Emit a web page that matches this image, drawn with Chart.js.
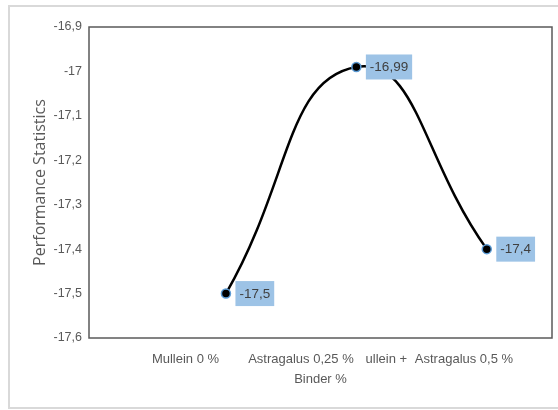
<!DOCTYPE html>
<html>
<head>
<meta charset="utf-8">
<script src="https://cdn.jsdelivr.net/npm/chart.js@4"></script>
<style>
  html, body { margin: 0; padding: 0; background: #fff; }
  #wrap { width: 558px; height: 410px; }
</style>
</head>
<body>
<div id="wrap"><canvas id="c" width="558" height="410"></canvas></div>
<script>
// Series: performance statistic per binder mix
const xPositions = [1, 2, 3];
const scores = [-17.5, -16.99, -17.4];

// Category captions along the x axis and where they sit on the scale
const xTickLabels = ['Mullein 0 %', 'Astragalus 0,25 %', 'ullein +', 'Astragalus 0,5 %'];
const xTickValues = [0.69, 1.575, 2.23, 2.825];

// Value axis range
const yMin = -17.6;
const yMax = -16.9;
const yStep = 0.1;

const xTitle = 'Binder %';
const yTitle = 'Performance Statistics';

const grey = '#595959';
const sans = "'Liberation Sans', Arial, sans-serif";

const commaNum = v => String(Number(v.toFixed(2))).replace('.', ',');

// Light frame round the whole chart and dark box round the plot area
const framePlugin = {
  id: 'frames',
  beforeDraw(chart) {
    const ctx = chart.ctx;
    ctx.save();
    ctx.strokeStyle = '#d9d9d9';
    ctx.lineWidth = 2;
    ctx.strokeRect(9, 6, 620, 402);
    ctx.restore();
  },
  afterDraw(chart) {
    const {ctx, chartArea: a} = chart;
    ctx.save();
    ctx.strokeStyle = '#5a5a5a';
    ctx.lineWidth = 1.5;
    ctx.strokeRect(a.left, a.top, a.right - a.left, a.bottom - a.top);
    ctx.restore();
  }
};

// Value boxes to the right of each point
const valueLabelPlugin = {
  id: 'valueLabels',
  afterDatasetsDraw(chart) {
    const ctx = chart.ctx;
    const meta = chart.getDatasetMeta(0);
    ctx.save();
    ctx.font = '13.5px ' + sans;
    ctx.textBaseline = 'middle';
    meta.data.forEach((pt, i) => {
      const txt = commaNum(scores[i]);
      const w = ctx.measureText(txt).width + 8;
      const h = 25;
      const bx = pt.x + 9.5;
      const by = pt.y - h / 2;
      ctx.fillStyle = '#9dc3e6';
      ctx.fillRect(bx, by, w, h);
      ctx.fillStyle = '#404040';
      ctx.fillText(txt, bx + 4, pt.y + 0.5);
    });
    ctx.restore();
  }
};

new Chart(document.getElementById('c'), {
  type: 'line',
  data: {
    datasets: [{
      data: xPositions.map((x, i) => ({x, y: scores[i]})),
      borderColor: '#000',
      borderWidth: 2.5,
      tension: 0.5,
      pointRadius: 4.5,
      pointBackgroundColor: '#000',
      pointBorderColor: '#5b9bd5',
      pointBorderWidth: 1.5,
      fill: false
    }]
  },
  options: {
    responsive: false,
    animation: false,
    events: [],
    layout: { padding: { left: 9, top: 27, right: 5, bottom: 0 } },
    plugins: { legend: { display: false }, tooltip: { enabled: false } },
    scales: {
      x: {
        type: 'linear',
        min: -0.05,
        max: 3.5,
        afterBuildTicks(scale) {
          scale.ticks = xTickValues.map(v => ({ value: v }));
        },
        afterFit(scale) { scale.height = 72; },
        grid: { display: false, drawTicks: false },
        border: { display: false },
        ticks: {
          autoSkip: false,
          maxRotation: 0,
          padding: 14,
          color: grey,
          font: { family: sans, size: 13 },
          callback(value, index) { return xTickLabels[index]; }
        },
        title: {
          display: true,
          text: xTitle,
          color: grey,
          font: { family: sans, size: 13 },
          padding: { top: 0, bottom: 23 }
        }
      },
      y: {
        min: yMin,
        max: yMax,
        afterFit(scale) { scale.width = 80; },
        grid: { display: false, drawTicks: false },
        border: { display: false },
        ticks: {
          stepSize: yStep,
          padding: 7,
          color: grey,
          font: { family: sans, size: 12.5 },
          callback(value) { return String(Number(value.toFixed(1))).replace('.', ','); }
        },
        title: {
          display: true,
          text: yTitle,
          color: grey,
          font: { family: "'Open Sans', sans-serif", size: 16 },
          padding: { top: 21.5, bottom: 0 }
        }
      }
    }
  },
  plugins: [framePlugin, valueLabelPlugin]
});
</script>
</body>
</html>
